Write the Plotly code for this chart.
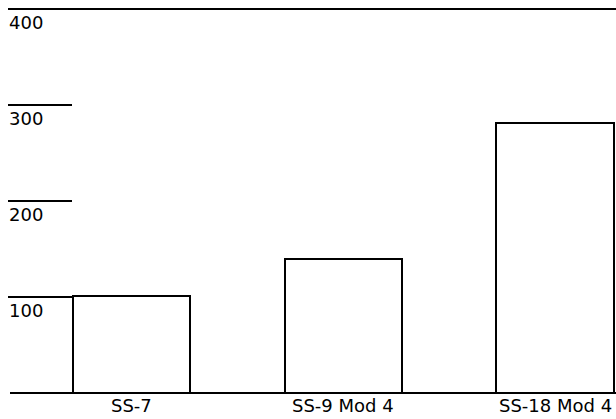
import plotly.graph_objects as go

categories = ["SS-7", "SS-9 Mod 4", "SS-18 Mod 4"]
values = [101, 140, 281]
y_ticks = [100, 200, 300, 400]
y_tick_labels = ["100", "200", "300", "400"]

W, H = 616, 419
FONT = "DejaVu Sans"

fig = go.Figure()
fig.add_trace(go.Bar(
    x=categories, y=values, width=0.553,
    marker=dict(color="white", line=dict(color="black", width=2)),
    showlegend=False, hoverinfo="skip",
))

shapes = []
annotations = []
for t, lab in zip(y_ticks, y_tick_labels):
    x1 = 1.0 if t == max(y_ticks) else 72 / W
    shapes.append(dict(type="line", xref="paper", yref="y",
                       x0=8 / W, x1=x1, y0=t, y1=t,
                       line=dict(color="black", width=2)))
    annotations.append(dict(xref="paper", yref="y", x=7 / W, y=t,
                            text=lab, showarrow=False, xanchor="left",
                            yanchor="top", yshift=-1,
                            font=dict(family=FONT, size=18, color="black")))
for c in categories:
    annotations.append(dict(xref="x", yref="y", x=c, y=0, text=c,
                            showarrow=False, xanchor="center",
                            yanchor="top", yshift=0,
                            font=dict(family=FONT, size=18, color="black")))
# baseline
shapes.append(dict(type="line", xref="paper", yref="y",
                   x0=10 / W, x1=1.0, y0=0, y1=0,
                   line=dict(color="black", width=2)))

fig.update_layout(
    width=W, height=H,
    margin=dict(l=0, r=0, t=1, b=22, pad=0),
    paper_bgcolor="white", plot_bgcolor="white",
    shapes=shapes, annotations=annotations,
    bargap=0,
    xaxis=dict(range=[-0.621, 2.288], showgrid=False, zeroline=False,
               showline=False, ticks="", showticklabels=False),
    yaxis=dict(range=[-4.17, 408.33], showgrid=False, zeroline=False,
               showline=False, showticklabels=False, ticks=""),
)

fig.write_html("out.html", config={"displayModeBar": False})
with open("out.html", "r", encoding="utf-8") as f:
    html = f.read()
html = html.replace("<body>", '<body style="margin:0;padding:0;">', 1)
with open("out.html", "w", encoding="utf-8") as f:
    f.write(html)
